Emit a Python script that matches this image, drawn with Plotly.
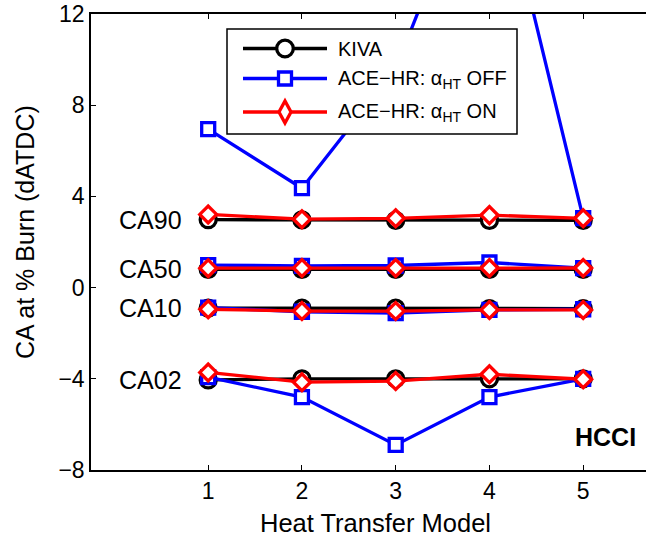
import plotly.graph_objects as go

# Heat transfer model index
models = [1, 2, 3, 4, 5]

# Crank angle (dATDC) at each burn fraction, KIVA reference
kiva_ca02 = [-4.05, -4.0, -4.0, -4.0, -4.0]
kiva_ca10 = [-0.9, -0.9, -0.9, -0.92, -0.92]
kiva_ca50 = [0.8, 0.8, 0.8, 0.8, 0.8]
kiva_ca90 = [2.98, 2.97, 2.95, 2.95, 2.95]

# ACE-HR with alpha_HT switched off
off_ca02 = [-3.93, -4.8, -6.9, -4.8, -4.0]
off_ca10 = [-0.88, -1.06, -1.12, -0.98, -0.95]
off_ca50 = [0.99, 0.95, 0.97, 1.1, 0.85]
off_ca90 = [6.95, 4.36, 9.6, 20.0, 3.05]

# ACE-HR with alpha_HT switched on
on_ca02 = [-3.72, -4.15, -4.1, -3.8, -4.02]
on_ca10 = [-0.95, -1.03, -1.03, -0.98, -0.98]
on_ca50 = [0.85, 0.86, 0.86, 0.86, 0.86]
on_ca90 = [3.21, 3.0, 3.04, 3.18, 3.04]

ca_labels = ["CA90", "CA50", "CA10", "CA02"]
legend_names = ["KIVA", "ACE−HR: α<sub>HT</sub> OFF", "ACE−HR: α<sub>HT</sub> ON"]

FONT = "Liberation Sans, Arial, Helvetica, sans-serif"
BLACK, BLUE, RED = "#000000", "#0000FF", "#FF0000"
LW = 3.3

# plot-area geometry (pixels) used to place the hand-built legend
L, T, W, H = 91, 14, 555, 456


def px(x):
    return (x - L) / W


def py(y):
    return (T + H - y) / H


fig = go.Figure()

series = [
    (BLACK, "circle", 16, [kiva_ca90, kiva_ca50, kiva_ca10, kiva_ca02]),
    (BLUE, "square", 13, [off_ca90, off_ca50, off_ca10, off_ca02]),
    (RED, "diamond", 13, [on_ca90, on_ca50, on_ca10, on_ca02]),
]
for color, symbol, size, groups in series:
    for vals in groups:
        fig.add_trace(go.Scatter(
            x=models, y=vals, mode="lines+markers",
            line=dict(color=color, width=LW),
            marker=dict(symbol=symbol, size=size, color="white",
                        line=dict(color=color, width=LW)),
            showlegend=False, hoverinfo="skip",
        ))

# burn-fraction labels to the left of each group
for name, vals in zip(ca_labels, [kiva_ca90, kiva_ca50, kiva_ca10, kiva_ca02]):
    fig.add_annotation(x=0.74, y=vals[0], xref="x", yref="y", text=name,
                       showarrow=False, xanchor="right", yanchor="middle",
                       font=dict(family=FONT, size=25, color="black"))

fig.add_annotation(x=5.24, y=-6.55, xref="x", yref="y", text="<b>HCCI</b>",
                   showarrow=False, xanchor="center", yanchor="middle",
                   font=dict(family=FONT, size=25, color="black"))

# axis titles
fig.add_annotation(x=px(375), y=py(523), xref="paper", yref="paper",
                   text="Heat Transfer Model", showarrow=False,
                   xanchor="center", yanchor="middle",
                   font=dict(family=FONT, size=25.5, color="black"))
fig.add_annotation(x=px(25), y=py(232), xref="paper", yref="paper",
                   text="CA at % Burn (dATDC)", showarrow=False, textangle=-90,
                   xanchor="center", yanchor="middle",
                   font=dict(family=FONT, size=25, color="black"))

# legend box
shapes = [dict(type="rect", xref="paper", yref="paper", layer="above",
               x0=px(227), x1=px(517), y0=py(134), y1=py(29),
               line=dict(color="black", width=1.5), fillcolor="white")]
entry_y = [48.5, 78.5, 112]
for (color, symbol, _, _), yy in zip(series, entry_y):
    shapes.append(dict(type="line", xref="paper", yref="paper", layer="above",
                       x0=px(243), x1=px(327), y0=py(yy), y1=py(yy),
                       line=dict(color=color, width=LW)))
    common = dict(xref="paper", yref="paper", layer="above",
                  xsizemode="pixel", ysizemode="pixel",
                  xanchor=px(285), yanchor=py(yy),
                  line=dict(color=color, width=LW), fillcolor="white")
    if symbol == "circle":
        shapes.append(dict(type="circle", x0=-8.3, x1=8.3, y0=-8.3, y1=8.3, **common))
    elif symbol == "square":
        shapes.append(dict(type="rect", x0=-6.5, x1=6.5, y0=-6.5, y1=6.5, **common))
    else:
        shapes.append(dict(type="path", path="M0,-11 L6,0 L0,11 L-6,0 Z", **common))
fig.update_layout(shapes=shapes)

text_y = [48.5, 79.5, 113]
for name, yy in zip(legend_names, text_y):
    fig.add_annotation(x=px(336), y=py(yy), xref="paper", yref="paper",
                       text=name, showarrow=False, xanchor="left",
                       yanchor="middle", font=dict(family=FONT, size=20, color="black"))

fig.update_xaxes(range=[-0.25, 5.67], tickvals=models, ticks="inside",
                 ticklen=5, tickwidth=1, tickcolor="black",
                 showline=True, linecolor="black", linewidth=1.5,
                 mirror="ticks", showgrid=False, zeroline=False,
                 tickfont=dict(family=FONT, size=23, color="black"))
fig.update_yaxes(range=[-8, 12], tickvals=[-8, -4, 0, 4, 8, 12], ticks="inside",
                 ticklen=5, tickwidth=1, tickcolor="black",
                 showline=True, linecolor="black", linewidth=1.5,
                 mirror=False, showgrid=False, zeroline=False,
                 tickfont=dict(family=FONT, size=23, color="black"))

fig.update_layout(width=646, height=542,
                  margin=dict(l=L, r=646 - L - W, t=T, b=542 - T - H, pad=0),
                  plot_bgcolor="white", paper_bgcolor="white",
                  showlegend=False)

fig.write_html("out.html")
